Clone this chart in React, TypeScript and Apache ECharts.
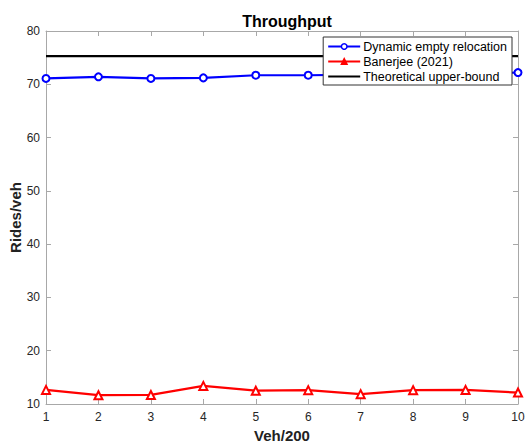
import React, { useEffect, useRef } from "react";
import * as echarts from "echarts";

const xValues = [1, 2, 3, 4, 5, 6, 7, 8, 9, 10];
const dynamicRelocation = [71.1, 71.4, 71.1, 71.2, 71.7, 71.7, 71.8, 71.9, 72.0, 72.2];
const banerjee = [12.65, 11.65, 11.7, 13.4, 12.5, 12.6, 11.85, 12.6, 12.65, 12.15];
const upperBound = [75.3, 75.3, 75.3, 75.3, 75.3, 75.3, 75.3, 75.3, 75.3, 75.3];
const seriesNames = ["Dynamic empty relocation", "Banerjee (2021)", "Theoretical upper-bound"];

const FONT = "Helvetica, Arial, 'Liberation Sans', sans-serif";

export default function App() {
  const ref = useRef<HTMLDivElement>(null);
  useEffect(() => {
    if (!ref.current) return;
    const chart = echarts.init(ref.current, undefined, { renderer: "svg" });
    const pair = (ys: number[]) => xValues.map((x, i) => [x, ys[i]]);
    const axisCommon = {
      axisLine: { show: true, lineStyle: { color: "#a8a8a8", width: 1 } },
      axisTick: { show: true, inside: true, length: 5, lineStyle: { color: "#a8a8a8" } },
      splitLine: { show: false },
    };
    chart.setOption({
      animation: false,
      backgroundColor: "#ffffff",
      textStyle: { fontFamily: FONT },
      title: {
        text: "Throughput",
        left: 282,
        textAlign: "center",
        top: 8,
        textStyle: { fontSize: 16, fontWeight: "bold", color: "#000", fontFamily: FONT },
      },
      grid: { left: 46, right: 7, top: 31, bottom: 39, show: false, outerBoundsMode: "none", containLabel: false },
      legend: {
        data: [
          { name: seriesNames[0], itemStyle: { color: "#ffffff", borderColor: "#0000ff", borderWidth: 1.5 } },
          { name: seriesNames[1], itemStyle: { color: "#ff0000", borderColor: "#ff0000", borderWidth: 1.5 } },
          { name: seriesNames[2], itemStyle: { opacity: 0 } },
        ],
        orient: "vertical",
        right: 13,
        top: 37,
        backgroundColor: "#fff",
        borderColor: "#333",
        borderWidth: 1,
        borderRadius: 0,
        padding: [3, 5, 2, 4],
        itemGap: 2,
        itemWidth: 32,
        itemHeight: 7,
        textStyle: { fontSize: 12.5, color: "#000", fontFamily: FONT, padding: [0, 0, 0, -2] },
      },
      xAxis: [
        {
          type: "value",
          min: 1,
          max: 10,
          interval: 1,
          name: "Veh/200",
          nameLocation: "middle",
          nameGap: 24,
          nameMoveOverlap: false,
          nameTextStyle: { fontSize: 15, fontWeight: "bold", color: "#222", fontFamily: FONT },
          axisLabel: { fontSize: 12, color: "#262626", margin: 7, fontFamily: FONT },
          ...axisCommon,
        },
        {
          type: "value",
          position: "top",
          min: 1,
          max: 10,
          interval: 1,
          axisLabel: { show: false },
          ...axisCommon,
        },
      ],
      yAxis: [
        {
          type: "value",
          min: 10,
          max: 80,
          interval: 10,
          name: "Rides/veh",
          nameLocation: "middle",
          nameGap: 23,
          nameMoveOverlap: false,
          nameTextStyle: { fontSize: 15, fontWeight: "bold", color: "#222", fontFamily: FONT },
          axisLabel: { fontSize: 12, color: "#262626", margin: 6, fontFamily: FONT },
          ...axisCommon,
        },
        {
          type: "value",
          position: "right",
          min: 10,
          max: 80,
          interval: 10,
          axisLabel: { show: false },
          ...axisCommon,
        },
      ],
      series: [
        {
          name: seriesNames[0],
          type: "line",
          data: pair(dynamicRelocation),
          symbol: "circle",
          symbolSize: 7,
          lineStyle: { color: "#0000ff", width: 2.2 },
          itemStyle: { color: "#ffffff", borderColor: "#0000ff", borderWidth: 2 },
          z: 3,
        },
        {
          name: seriesNames[1],
          type: "line",
          data: pair(banerjee),
          symbol: "triangle",
          symbolSize: 8,
          lineStyle: { color: "#ff0000", width: 2.2 },
          itemStyle: { color: "#ffffff", borderColor: "#ff0000", borderWidth: 2 },
          z: 3,
        },
        {
          name: seriesNames[2],
          type: "line",
          data: pair(upperBound),
          symbol: "none",
          showSymbol: false,
          lineStyle: { color: "#000000", width: 2.2 },
          itemStyle: { color: "#000000" },
          z: 2,
        },
      ],
    });
    return () => chart.dispose();
  }, []);
  return <div ref={ref} style={{ width: 525, height: 443, position: "absolute", left: 0, top: 0 }} />;
}
